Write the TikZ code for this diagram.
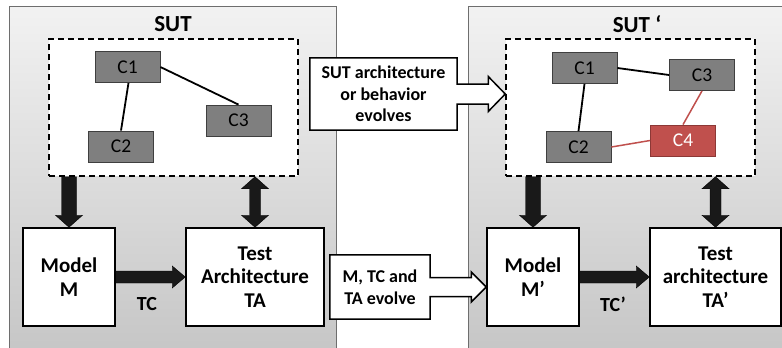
\documentclass[tikz,border=0pt]{standalone}
\usepackage{fontspec}
\setmainfont{Carlito}
\usetikzlibrary{calc}
\definecolor{panelborder}{HTML}{6E6E6E}
\definecolor{paneltop}{HTML}{F2F2F2}
\definecolor{panelbot}{HTML}{C6C6C6}
\definecolor{compfill}{HTML}{7F7F7F}
\definecolor{compborder}{HTML}{3F3F3F}
\definecolor{redfill}{HTML}{C0504D}
\definecolor{redborder}{HTML}{8C3836}
\tikzset{
  panel/.style={draw=panelborder, line width=1pt, top color=paneltop, bottom color=panelbot},
  sutbox/.style={draw=black, fill=white, dashed, dash pattern=on 6pt off 4pt, line width=1.5pt},
  comp/.style={draw=compborder, fill=compfill, line width=0.8pt, minimum width=65pt, minimum height=31pt, inner sep=0pt, font=\fontsize{19.5}{22}\selectfont},
  redcomp/.style={comp, draw=redborder, fill=redfill, text=white},
  link/.style={draw=black, line width=1.8pt},
  redlink/.style={draw=redfill, line width=1.5pt},
  whitebox/.style={draw=black, fill=white, line width=1.5pt, inner sep=0pt, align=center, font=\bfseries\fontsize{21}{23.5}\selectfont},
  calloutbox/.style={inner sep=0pt, align=center, font=\bfseries\fontsize{18}{21.7}\selectfont},
  callout/.style={draw=black, fill=white, line width=1.5pt, line join=miter},
  blk/.style={fill=black!90, draw=black, line width=0.4pt},
  title/.style={font=\bfseries\fontsize{23}{26}\selectfont},
  lbl/.style={font=\bfseries\fontsize{20}{22}\selectfont},
}
\begin{document}
\begin{tikzpicture}[x=1pt,y=-1pt]
\useasboundingbox (0,0) rectangle (782,348);
% panels
\path[panel] (9,6) rectangle (336,352);
\path[panel] (468,6) rectangle (790,352);
\node[title] (tL) at (173,24) {SUT};
\node[title] (tR) at (637,24) {SUT ‘};
% dashed SUT boxes
\node[sutbox, minimum width=249pt, minimum height=137pt, inner sep=0pt] (sutL) at (173.5,107.5) {};
\node[sutbox, minimum width=249pt, minimum height=137pt, inner sep=0pt] (sutR) at (630.5,107.5) {};
% left components
\node[comp] (c1) at (127.5,67) {C1};
\node[comp] (c2) at (121,146.5) {C2};
\node[comp] (c3) at (238.5,120.5) {C3};
\draw[link] ($(c1.south)+(1,0)$) -- (c2.north);
\draw[link] (c1.east) -- (c3.north);
% right components
\node[comp] (d1) at (584.5,68) {C1};
\node[comp] (d2) at (578.5,147) {C2};
\node[comp] (d3) at (702,75) {C3};
\node[redcomp] (d4) at (683,140.5) {C4};
\draw[link] (d1.south) -- (d2.north);
\draw[link] (d1.east) -- (d3.west);
\draw[redlink] (d2.east) -- (d4.west);
\draw[redlink] (d4.north) -- (d3.south);
% bottom boxes
\node[whitebox, minimum width=92pt, minimum height=98pt] (M) at (69,277) {Model\\M};
\node[whitebox, minimum width=138pt, minimum height=98pt] (TA) at (255,277) {Test\\Architecture\\TA};
\node[whitebox, minimum width=92pt, minimum height=98pt] (Mp) at (533,277) {Model\\M’};
\node[whitebox, minimum width=131pt, minimum height=98pt] (TAp) at (715.5,277) {Test\\architecture\\TA’};
\node[lbl] (tc) at (147,304) {TC};
\node[lbl] (tcp) at (613,304) {TC’};
% block arrows left
\path[blk] let \p1=(sutL.south -| M.north), \p2=(M.north) in
  (\x1-7.5pt,\y1) -- (\x1-7.5pt,\y2+12pt) -- (\x1-13.5pt,\y2+12pt) -- (\x2,\y2)
  -- (\x1+13.5pt,\y2+12pt) -- (\x1+7.5pt,\y2+12pt) -- (\x1+7.5pt,\y1) -- cycle;
\path[blk] let \p1=(sutL.south -| TA.north), \p2=(TA.north) in
  (\x1,\y1) -- (\x1+13.5pt,\y1-12pt) -- (\x1+5.5pt,\y1-12pt) -- (\x1+5.5pt,\y2+12pt)
  -- (\x1+13.5pt,\y2+12pt) -- (\x2,\y2) -- (\x1-13.5pt,\y2+12pt) -- (\x1-5.5pt,\y2+12pt)
  -- (\x1-5.5pt,\y1-12pt) -- (\x1-13.5pt,\y1-12pt) -- cycle;
\path[blk] let \p1=(M.east), \p2=(TA.west) in
  (\x1,\y1+6pt) -- (\x2-13pt,\y1+6pt) -- (\x2-13pt,\y1+11pt) -- (\x2,\y2)
  -- (\x2-13pt,\y1-11pt) -- (\x2-13pt,\y1-6pt) -- (\x1,\y1-6pt) -- cycle;
% block arrows right
\path[blk] let \p1=(sutR.south -| Mp.north), \p2=(Mp.north) in
  (\x1-7.5pt,\y1) -- (\x1-7.5pt,\y2+12pt) -- (\x1-13.5pt,\y2+12pt) -- (\x2,\y2)
  -- (\x1+13.5pt,\y2+12pt) -- (\x1+7.5pt,\y2+12pt) -- (\x1+7.5pt,\y1) -- cycle;
\path[blk] let \p1=(sutR.south -| TAp.north), \p2=(TAp.north) in
  (\x1,\y1) -- (\x1+13.5pt,\y1-12pt) -- (\x1+5.5pt,\y1-12pt) -- (\x1+5.5pt,\y2+12pt)
  -- (\x1+13.5pt,\y2+12pt) -- (\x2,\y2) -- (\x1-13.5pt,\y2+12pt) -- (\x1-5.5pt,\y2+12pt)
  -- (\x1-5.5pt,\y1-12pt) -- (\x1-13.5pt,\y1-12pt) -- cycle;
\path[blk] let \p1=(Mp.east), \p2=(TAp.west) in
  (\x1,\y1+6pt) -- (\x2-13pt,\y1+6pt) -- (\x2-13pt,\y1+11pt) -- (\x2,\y2)
  -- (\x2-13pt,\y1-11pt) -- (\x2-13pt,\y1-6pt) -- (\x1,\y1-6pt) -- cycle;
% callouts
\node[calloutbox, minimum width=147pt, minimum height=72pt] (cb1) at (383.5,94) {};
\draw[callout] let \p1=(cb1.east), \p2=(cb1.east -| sutR.west) in
  (cb1.north west) -- (cb1.north east) -- (\x1,\y1+10pt) -- (\x2-17pt,\y1+10pt)
  -- (\x2-17pt,\y1+17.5pt) -- (\x2,\y2) -- (\x2-17pt,\y1-17.5pt) -- (\x2-17pt,\y1-10pt)
  -- (\x1,\y1-10pt) -- (cb1.south east) -- (cb1.south west) -- cycle;
\node[calloutbox] (cb1t) at (cb1) {SUT architecture\\or behavior\\evolves};
\node[calloutbox, minimum width=100pt, minimum height=64pt] (cb2) at (380,287) {};
\draw[callout] let \p1=(cb2.east), \p2=(cb2.east -| Mp.west) in
  (cb2.north west) -- (cb2.north east) -- (\x1,\y1+9.5pt) -- (\x2-15pt,\y1+9.5pt)
  -- (\x2-15pt,\y1+15pt) -- (\x2,\y2) -- (\x2-15pt,\y1-15pt) -- (\x2-15pt,\y1-9.5pt)
  -- (\x1,\y1-9.5pt) -- (cb2.south east) -- (cb2.south west) -- cycle;
\node[calloutbox] (cb2t) at (cb2) {M, TC and\\TA evolve};
\end{tikzpicture}
\end{document}
